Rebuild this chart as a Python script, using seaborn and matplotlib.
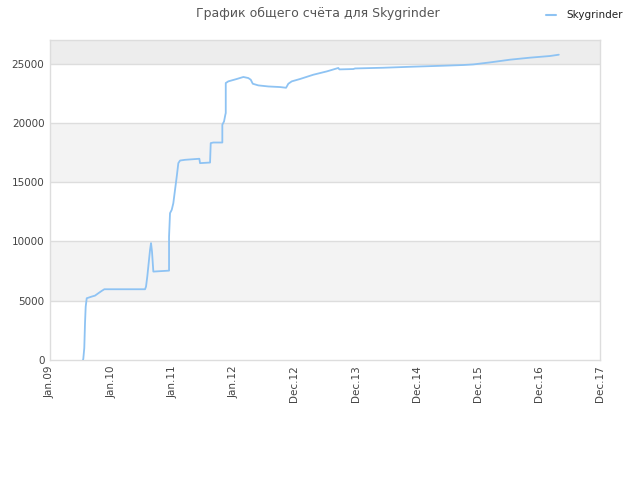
import matplotlib
matplotlib.use("Agg")
import matplotlib.pyplot as plt
import seaborn as sns
import pandas as pd

# x: years since Jan 2009 (label positions are evenly spaced), y: total score
years = [0.540, 0.545, 0.561, 0.573, 0.584, 0.601, 0.682, 0.736, 0.790, 0.846, 0.889,
         1.555, 1.571, 1.592, 1.615, 1.637, 1.653, 1.669, 1.691, 1.948, 1.948, 1.964,
         1.992, 2.018, 2.046, 2.074, 2.100, 2.128, 2.209, 2.444, 2.455, 2.619, 2.630,
         2.673, 2.820, 2.820, 2.848, 2.869, 2.876, 2.876, 2.918, 3.056, 3.164, 3.245,
         3.285, 3.318, 3.409, 3.573, 3.764, 3.863, 3.900, 3.956, 4.092, 4.309, 4.529,
         4.718, 4.735, 4.964, 4.992, 5.455, 5.946, 6.437, 6.764, 6.928, 7.201, 7.529,
         7.856, 8.183, 8.326]
scores = [0, 110, 1010, 3125, 4500, 5210, 5350, 5430, 5630, 5830, 5970,
          5970, 6190, 7040, 8190, 9290, 9860, 9150, 7460, 7540, 10410, 12390,
          12670, 13230, 14360, 15480, 16610, 16830, 16890, 16980, 16610, 16660, 18300,
          18350, 18350, 19850, 20130, 20690, 20840, 23370, 23510, 23710, 23880, 23790,
          23650, 23310, 23170, 23080, 23030, 22970, 23310, 23510, 23710, 24070, 24350,
          24640, 24520, 24550, 24600, 24660, 24750, 24830, 24890, 24940, 25110, 25340,
          25510, 25650, 25760]
tick_labels = ["Jan.09", "Jan.10", "Jan.11", "Jan.12", "Dec.12", "Dec.13",
               "Dec.14", "Dec.15", "Dec.16", "Dec.17"]
y_ticks = [0, 5000, 10000, 15000, 20000, 25000]
player = "Skygrinder"

df = pd.DataFrame({"x": years, "y": scores, "player": player})

sns.set_theme(style="white")
plt.rcParams['font.family'] = ['DejaVu Sans']

fig = plt.figure(figsize=(6.4, 4.8), dpi=100)
ax = fig.add_axes([50/640, 120/480, 550/640, 320/480])

ymax = 27000
# alternating bands
ax.axhspan(5000, 10000, color="#f3f3f3", zorder=0, lw=0)
ax.axhspan(15000, 20000, color="#f3f3f3", zorder=0, lw=0)
ax.axhspan(25000, ymax, color="#ededed", zorder=0, lw=0)
for yv in y_ticks[1:]:
    ax.axhline(yv, color="#dddddd", lw=1, zorder=1)

sns.lineplot(data=df, x="x", y="y", hue="player", palette=["#8ec3f3"],
             lw=1.3, ax=ax, legend=False, sort=False, estimator=None,
             errorbar=None, zorder=3)

ax.set_xlim(0, 9)
ax.set_ylim(0, ymax)
ax.set_xticks(range(len(tick_labels)))
ax.set_xticklabels(tick_labels, rotation=90, fontsize=7.5, color="#444444")
ax.set_yticks(y_ticks)
ax.set_yticklabels([str(v) for v in y_ticks], fontsize=7.5, color="#444444")
ax.set_xlabel("")
ax.set_ylabel("")
ax.tick_params(axis="both", length=0, pad=4)
for s in ax.spines.values():
    s.set_color("#dddddd")
    s.set_linewidth(1)

fig.text(0.497, 0.972, "График общего счёта для Skygrinder", ha="center", va="center",
         fontsize=9, color="#555555")
fig.lines.append(plt.Line2D([546/640, 556/640], [0.969, 0.969], color="#8ec3f3",
                            lw=1.5, transform=fig.transFigure))
fig.text(566/640, 0.969, player, ha="left", va="center", fontsize=7.5, color="#222222")

fig.savefig("out.png", dpi=100)
